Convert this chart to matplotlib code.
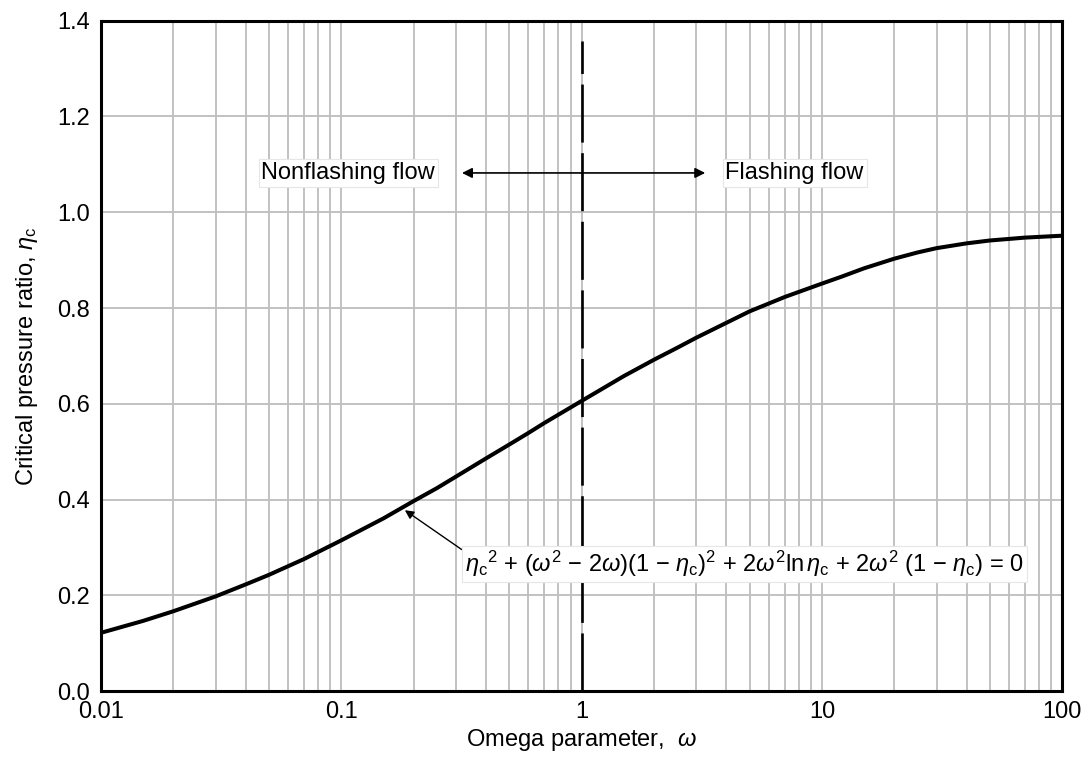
import numpy as np
import matplotlib
matplotlib.use("Agg")
import matplotlib.pyplot as plt

plt.rcParams['font.family'] = ['Liberation Sans', 'DejaVu Sans']
plt.rcParams['mathtext.fontset'] = 'custom'
plt.rcParams['mathtext.rm'] = 'Liberation Sans'
plt.rcParams['mathtext.it'] = 'Liberation Sans:italic'

# values
omega = [0.01, 0.015, 0.02, 0.03, 0.04, 0.05, 0.07, 0.1, 0.15, 0.2, 0.25, 0.3,
         0.4, 0.5, 0.6, 0.7, 1, 1.5, 2, 2.5, 3, 4, 5, 7, 10, 12, 15, 20, 25,
         30, 40, 50, 70, 100]
eta_c = [0.122, 0.147, 0.167, 0.198, 0.223, 0.243, 0.276, 0.315, 0.361, 0.397,
         0.424, 0.448, 0.486, 0.515, 0.539, 0.560, 0.606, 0.658, 0.692, 0.717,
         0.738, 0.769, 0.793, 0.823, 0.851, 0.865, 0.883, 0.903, 0.916,
         0.925, 0.935, 0.941, 0.947, 0.951]
x_ticks = [0.01, 0.1, 1, 10, 100]
x_labels = ['0.01', '0.1', '1', '10', '100']
y_ticks = [0.0, 0.2, 0.4, 0.6, 0.8, 1.0, 1.2, 1.4]

fig = plt.figure(figsize=(10.85, 7.63), dpi=100)
ax = fig.add_axes([0.093, 0.094, 0.886, 0.879])

ax.plot(omega, eta_c, color='black', lw=2.9, zorder=4, solid_joinstyle='round')
ax.axvline(1, ymin=0, ymax=0.97, color='black', lw=1.9, linestyle=(0, (22, 4)), zorder=3)

ax.set_xscale('log')
ax.set_xlim(0.01, 100)
ax.set_ylim(0, 1.4)
ax.set_xticks(x_ticks)
ax.set_xticklabels(x_labels)
ax.set_yticks(y_ticks)
ax.set_yticklabels([f'{v:.1f}' for v in y_ticks])
ax.xaxis.set_minor_locator(matplotlib.ticker.LogLocator(base=10, subs=np.arange(2, 10)))
ax.xaxis.set_minor_formatter(matplotlib.ticker.NullFormatter())
ax.grid(True, which='both', axis='x', color='#bdbdbd', lw=1.3)
ax.grid(True, which='major', axis='y', color='#bdbdbd', lw=1.3)
ax.tick_params(which='both', length=0, labelsize=17)
ax.tick_params(axis='x', pad=7)
ax.tick_params(axis='y', pad=8)
for s in ax.spines.values():
    s.set_linewidth(2.2)
    s.set_zorder(5)

ax.set_xlabel(r'Omega parameter,  $\mathit{\omega}$', fontsize=17, labelpad=3)
ax.set_ylabel(r'Critical pressure ratio, $\mathit{\eta}_\mathrm{c}$', fontsize=17, labelpad=12)

box = dict(facecolor='white', edgecolor='#e6e6e6', lw=0.8, pad=2)
ax.text(0.107, 1.082, 'Nonflashing flow', fontsize=17, ha='center', va='center', bbox=box, zorder=6)
ax.text(7.7, 1.082, 'Flashing flow', fontsize=17, ha='center', va='center', bbox=box, zorder=6)
ax.annotate('', xy=(0.318, 1.082), xytext=(1.0, 1.082),
            arrowprops=dict(arrowstyle='-|>', color='black', lw=1.2, mutation_scale=15, shrinkA=0, shrinkB=0))
ax.annotate('', xy=(3.27, 1.082), xytext=(1.0, 1.082),
            arrowprops=dict(arrowstyle='-|>', color='black', lw=1.2, mutation_scale=15, shrinkA=0, shrinkB=0))

eq = (r'$\mathit{\eta}_\mathrm{c}{}^2$ + ($\mathit{\omega}^2$ $-$ 2$\mathit{\omega}$)(1 $-$ $\mathit{\eta}_\mathrm{c}$)$^2$'
      r' + 2$\mathit{\omega}^2$ln$\,\mathit{\eta}_\mathrm{c}$ + 2$\mathit{\omega}^2$ (1 $-$ $\mathit{\eta}_\mathrm{c}$) = 0')
ax.annotate(eq, xy=(0.184, 0.378), xytext=(0.327, 0.266), fontsize=17, ha='left', va='center',
            bbox=box, zorder=6,
            arrowprops=dict(arrowstyle='-|>', color='black', lw=1.0, mutation_scale=13,
                            shrinkA=0, shrinkB=0, relpos=(0, 0.9)))

fig.savefig('out.png', dpi=100)
